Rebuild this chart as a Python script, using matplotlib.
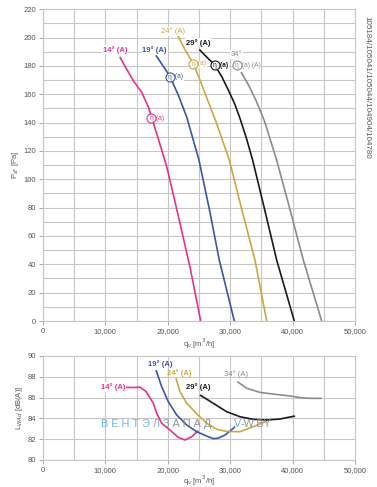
import matplotlib
matplotlib.use('Agg')
import matplotlib.pyplot as plt
from matplotlib.ticker import FuncFormatter, MultipleLocator

plt.rcParams['font.family'] = ['Liberation Sans', 'DejaVu Sans']

W, H = 377, 487

# pressure curves (top)
angles = ['14°', '19°', '24°', '29°', '34°']
colors = ['#e8308c', '#3b55a8', '#cfa544', '#1a1a1a', '#8c8c8c']

q_p14 = [12300, 13500, 14500, 15800, 16900, 17950, 18900, 19820, 20900, 21950, 23560, 25270]
p_p14 = [186.5, 177, 169.5, 161.5, 151, 136, 122.5, 109, 89, 69, 38, 0]
q_p19 = [18100, 19550, 20350, 21680, 23030, 24000, 25000, 26700, 28250, 30660]
p_p19 = [187.5, 178, 172.5, 159.5, 144, 129, 113.5, 78, 43, 0]
q_p24 = [21400, 22760, 24090, 25160, 26490, 27830, 29860, 31900, 33970, 35850]
p_p24 = [203, 191.5, 181.5, 170, 154.7, 139.4, 113.5, 78, 43, 0]
q_p29 = [25050, 26300, 27560, 28700, 29700, 30700, 31570, 32600, 33600, 35500, 37450, 40270]
p_p29 = [191.6, 186, 180.5, 172, 163, 153.5, 143, 129, 113.5, 79, 43, 0]
q_p34 = [31730, 33000, 34200, 35500, 37450, 39500, 41720, 44660]
p_p34 = [175.8, 166, 155, 141, 113.5, 80, 43, 0]

# efficiency marker points on pressure curves
eta_q = [17310, 20350, 24090, 27560, 31040]
eta_p = [143, 172.3, 181.5, 180.5, 180.5]

# sound power curves (bottom)
q_l14 = [13140, 14500, 15540, 16500, 17680, 18220, 19020, 20350, 21680, 22760, 23830, 24890]
l_l14 = [86.99, 86.97, 87.0, 86.6, 85.45, 84.5, 83.53, 82.88, 82.18, 81.92, 82.24, 82.82]
q_l19 = [18110, 19020, 20080, 21420, 23030, 24630, 26230, 27300, 28090, 29170, 30500, 30770]
l_l19 = [88.65, 87.05, 85.6, 84.33, 83.37, 82.72, 82.3, 82.05, 82.1, 82.4, 83.05, 83.2]
q_l24 = [21310, 21950, 23030, 24630, 26230, 27830, 29440, 31570, 33700, 35580, 35850]
l_l24 = [87.86, 86.57, 85.45, 84.45, 83.53, 82.95, 82.75, 82.72, 83.2, 83.68, 83.85]
q_l29 = [25160, 27300, 29440, 31570, 33700, 35850, 37980, 40380]
l_l29 = [86.25, 85.45, 84.64, 84.16, 83.91, 83.85, 83.94, 84.23]
q_l34 = [31150, 32640, 34780, 37450, 39690, 41290, 42890, 44660]
l_l34 = [87.53, 86.9, 86.5, 86.3, 86.15, 85.99, 85.93, 85.93]

p_curves = [(q_p14, p_p14), (q_p19, p_p19), (q_p24, p_p24), (q_p29, p_p29), (q_p34, p_p34)]
l_curves = [(q_l14, l_l14), (q_l19, l_l19), (q_l24, l_l24), (q_l29, l_l29), (q_l34, l_l34)]

fig = plt.figure(figsize=(W / 100, H / 100), dpi=100)


def box(l, t, r, b):
    return [l / W, 1 - b / H, (r - l) / W, (b - t) / H]


ax1 = fig.add_axes(box(43, 9.3, 355, 321))
ax2 = fig.add_axes(box(43, 356, 355, 460))

fmt = FuncFormatter(lambda v, p: '{:,.0f}'.format(v))
grid_c = '#c6c6c6'
tick_c = '#555555'

for ax in (ax1, ax2):
    ax.set_xlim(0, 50000)
    ax.xaxis.set_major_locator(MultipleLocator(10000))
    ax.xaxis.set_minor_locator(MultipleLocator(5000))
    ax.xaxis.set_major_formatter(fmt)
    ax.grid(True, which='both', color=grid_c, lw=0.8)
    ax.set_axisbelow(True)
    for s in ax.spines.values():
        s.set_color(grid_c)
        s.set_linewidth(0.8)
    ax.tick_params(which='major', length=3, width=0.6, color='#999999', labelsize=5.5, labelcolor=tick_c, pad=2)
    ax.tick_params(which='minor', length=0)

ax1.set_xlabel('q$_v$ [m$^3$/h]', fontsize=5.5, color=tick_c, labelpad=1.5)
ax2.set_xlabel('q$_v$ [m$^3$/h]', fontsize=5.5, color=tick_c, labelpad=0)

ax1.set_ylim(0, 220)
ax1.yaxis.set_major_locator(MultipleLocator(20))
ax1.yaxis.set_minor_locator(MultipleLocator(10))
ax1.set_ylabel('P$_{sF}$ [Pa]', fontsize=5.5, color=tick_c, labelpad=2)

ax2.set_ylim(80, 90)
ax2.yaxis.set_major_locator(MultipleLocator(2))
ax2.set_ylabel('L$_{WAd}$ [dB(A)]', fontsize=5.5, color=tick_c, labelpad=2)

for (q, p), c in zip(p_curves, colors):
    ax1.plot(q, p, color=c, lw=1.2, zorder=3, solid_capstyle='butt', solid_joinstyle='round')
for (q, l), c in zip(l_curves, colors):
    ax2.plot(q, l, color=c, lw=1.2, zorder=3, solid_capstyle='butt', solid_joinstyle='round')

lbl_box = dict(facecolor='white', edgecolor='none', pad=0.6)

# top labels
top_lbl = [(11600, 191.5, '14° (A)'), (17900, 191.5, '19° (A)'), (20900, 204.5, '24° (A)'),
           (24800, 196.5, '29° (A)'), (31000, 188, '34°')]
for (x, y, t), c in zip(top_lbl, colors):
    ax1.text(x, y, t, color=c, fontsize=5.5, ha='center', va='center', zorder=5,
             fontweight='normal' if c in ('#8c8c8c', '#cfa544') else 'bold', bbox=lbl_box)

for x, y, c in zip(eta_q, eta_p, colors):
    ax1.plot(x, y, 'o', ms=6.5, mfc='white', mec=c, mew=0.8, zorder=6)
    ax1.text(x, y - 0.3, 'η', color=c, fontsize=4.8, ha='center', va='center', zorder=7)
    extra = ' (a) (A)' if c == '#8c8c8c' else ' (a)'
    ax1.text(x + 500, y, extra, color=c, fontsize=4.8, ha='left', va='center', zorder=5,
             fontweight='bold' if c == '#1a1a1a' else 'normal', bbox=lbl_box)

ax1.text(1.038, 0.75, '105184/105041/105044/104904/104780', transform=ax1.transAxes,
         rotation=270, fontsize=5.8, color='#555555', ha='center', va='center')

# bottom labels
bot_lbl = [(11200, 87.0, '14° (A)'), (18800, 89.2, '19° (A)'), (21900, 88.4, '24° (A)'),
           (24900, 87.05, '29° (A)'), (30900, 88.25, '34° (A)')]
for (x, y, t), c in zip(bot_lbl, colors):
    ax2.text(x, y, t, color=c, fontsize=5.5, ha='center', va='center', zorder=5,
             fontweight='normal' if c == '#8c8c8c' else 'bold',
             bbox=lbl_box if c == '#e8308c' else None)

# watermark
fig.text(101 / W, 1 - 424 / H, 'В Е Н Т Э Л', color='#62aee3', fontsize=7.8, va='center', ha='left', alpha=0.9, zorder=10)
fig.text(163 / W, 1 - 424 / H, 'З А П А Д', color='#8a8a8a', fontsize=7.8, va='center', ha='left', alpha=0.9, zorder=10)
fig.text(234 / W, 1 - 424 / H, 'V', color='#62aee3', fontsize=7.8, va='center', ha='left', alpha=0.9, zorder=10)
fig.text(241 / W, 1 - 424 / H, '-W.BY', color='#8a8a8a', fontsize=7.8, va='center', ha='left', alpha=0.9, zorder=10)

fig.savefig('out.png', dpi=100, facecolor='white')
